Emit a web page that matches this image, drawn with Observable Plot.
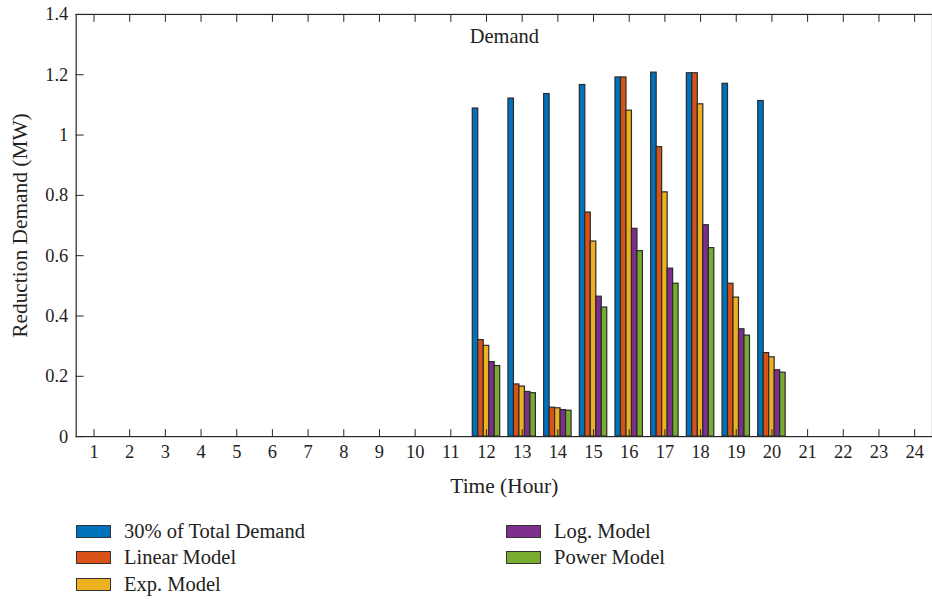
<!DOCTYPE html>
<html>
<head>
<meta charset="utf-8">
<script src="https://cdn.jsdelivr.net/npm/d3@7"></script>
<script src="https://cdn.jsdelivr.net/npm/@observablehq/plot@0.6"></script>
<style>
  html, body { margin: 0; padding: 0; background: #fff; overflow: hidden; }
  #wrap { position: relative; width: 932px; height: 599px; overflow: hidden; }
  #legend {
    position: absolute; top: 518px; left: 76px;
    display: grid; grid-template-columns: 430px auto; grid-template-rows: repeat(3, 26.5px);
    grid-auto-flow: column;
    font-family: "Liberation Serif", "DejaVu Serif", serif; font-size: 20.5px; color: #222;
  }
  .item { display: flex; align-items: center; }
  .sw { width: 33px; height: 11px; border: 1.5px solid #333; margin-right: 13px; }
</style>
</head>
<body>
<div id="wrap"><div id="chart"></div><div id="legend"></div></div>
<script>
const hours = d3.range(1, 25);
const seriesNames = ["30% of Total Demand", "Linear Model", "Exp. Model", "Log. Model", "Power Model"];
const seriesColors = ["#0072BD", "#D95319", "#EDB120", "#7E2F8E", "#77AC30"];
const totalDemand30 = [0,0,0,0,0,0,0,0,0,0,0, 1.088, 1.121, 1.136, 1.166, 1.191, 1.207, 1.205, 1.170, 1.113, 0,0,0,0];
const linearModel   = [0,0,0,0,0,0,0,0,0,0,0, 0.320, 0.173, 0.096, 0.743, 1.191, 0.960, 1.205, 0.507, 0.277, 0,0,0,0];
const expModel      = [0,0,0,0,0,0,0,0,0,0,0, 0.301, 0.166, 0.094, 0.647, 1.081, 0.810, 1.102, 0.461, 0.263, 0,0,0,0];
const logModel      = [0,0,0,0,0,0,0,0,0,0,0, 0.247, 0.148, 0.088, 0.464, 0.689, 0.557, 0.701, 0.356, 0.220, 0,0,0,0];
const powerModel    = [0,0,0,0,0,0,0,0,0,0,0, 0.234, 0.144, 0.086, 0.428, 0.615, 0.507, 0.625, 0.335, 0.212, 0,0,0,0];
const yTicks = [0, 0.2, 0.4, 0.6, 0.8, 1, 1.2, 1.4];

const allSeries = [totalDemand30, linearModel, expModel, logModel, powerModel];
const nS = allSeries.length;
const groupWidth = nS / (nS + 1.5);   // MATLAB grouped-bar width
const barW = groupWidth / nS;
const rows = [];
allSeries.forEach((vals, k) => vals.forEach((v, i) => rows.push({
  hour: hours[i], series: seriesNames[k], k, value: v
})));

const font = "Liberation Serif, DejaVu Serif, serif";
const chart = Plot.plot({
  width: 936, height: 505,
  marginTop: 14, marginBottom: 67, marginLeft: 76, marginRight: 0,
  style: { fontFamily: font, fontSize: "18px", color: "#222", background: "#fff" },
  x: { domain: [0.5, 24.5], axis: null },
  y: { domain: [0, 1.4], axis: null },
  color: { domain: seriesNames, range: seriesColors },
  marks: [
    Plot.rectY(rows, {
      x1: d => d.hour - groupWidth / 2 + d.k * barW,
      x2: d => d.hour - groupWidth / 2 + (d.k + 1) * barW,
      y1: 0, y2: "value", fill: "series", stroke: "#2a2a2a", strokeWidth: 1.2
    }),
    Plot.frame({ stroke: "#262626", strokeWidth: 1.2 }),
    Plot.axisX({ ticks: hours, tickSize: -7, tickPadding: 15, tickFormat: d => String(d), label: null, stroke: "#262626", fontSize: 18.5 }),
    Plot.axisX({ anchor: "top", ticks: hours, tickSize: -7, tickFormat: () => "", label: null, stroke: "#262626" }),
    Plot.axisY({ ticks: yTicks, tickSize: -8, tickPadding: 16, tickFormat: d => String(d), label: null, stroke: "#262626", fontSize: 18.5 }),
    Plot.text(["Demand"], { frameAnchor: "top", dy: 22, lineAnchor: "middle", textAnchor: "middle", fontSize: 20.5, fill: "#222" }),
    Plot.text(["Time (Hour)"], { frameAnchor: "bottom", dy: 50, lineAnchor: "middle", textAnchor: "middle", fontSize: 21.5, fill: "#222" }),
    Plot.text(["Reduction Demand (MW)"], { frameAnchor: "left", dx: -56, rotate: -90, textAnchor: "middle", lineAnchor: "middle", fontSize: 21.5, fill: "#222" })
  ]
});
document.getElementById("chart").appendChild(chart);

const legend = document.getElementById("legend");
seriesNames.forEach((name, k) => {
  const it = document.createElement("div");
  it.className = "item";
  it.innerHTML = `<span class="sw" style="background:${seriesColors[k]}"></span><span>${name}</span>`;
  legend.appendChild(it);
});
</script>
</body>
</html>
